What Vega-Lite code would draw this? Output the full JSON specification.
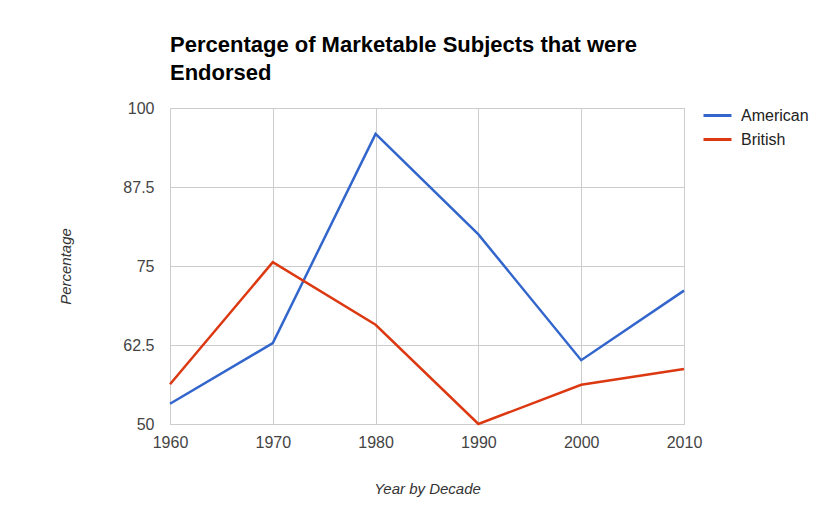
{
  "$schema": "https://vega.github.io/schema/vega-lite/v6.json",
  "width": 514,
  "height": 316,
  "autosize": {"type": "none"},
  "padding": {"left": 170, "top": 108, "right": 152, "bottom": 99},
  "background": "white",
  "config": {
    "font": "Liberation Sans",
    "view": {"stroke": "#cccccc", "strokeWidth": 1}
  },
  "title": {
    "text": ["Percentage of Marketable Subjects that were", "Endorsed"],
    "anchor": "start",
    "frame": "group",
    "font": "Liberation Sans",
    "fontSize": 22,
    "fontWeight": "bold",
    "color": "#000000",
    "lineHeight": 28,
    "offset": 15
  },
  "data": {
    "values": [
      {"year": 1960, "series": "American", "value": 53.2},
      {"year": 1970, "series": "American", "value": 62.8},
      {"year": 1980, "series": "American", "value": 95.9},
      {"year": 1990, "series": "American", "value": 80.0},
      {"year": 2000, "series": "American", "value": 60.1},
      {"year": 2010, "series": "American", "value": 71.1},
      {"year": 1960, "series": "British", "value": 56.3},
      {"year": 1970, "series": "British", "value": 75.6},
      {"year": 1980, "series": "British", "value": 65.7},
      {"year": 1990, "series": "British", "value": 50.0},
      {"year": 2000, "series": "British", "value": 56.2},
      {"year": 2010, "series": "British", "value": 58.7}
    ]
  },
  "mark": {"type": "line", "strokeWidth": 2.5},
  "encoding": {
    "x": {
      "field": "year",
      "type": "quantitative",
      "scale": {"domain": [1960, 2010], "nice": false, "zero": false},
      "axis": {
        "values": [1960, 1970, 1980, 1990, 2000, 2010],
        "format": "d",
        "title": "Year by Decade",
        "titleFont": "Liberation Sans",
        "titleFontStyle": "italic",
        "titleFontWeight": "normal",
        "titleFontSize": 15,
        "titleColor": "#333333",
        "titlePadding": 31,
        "labelFontSize": 16,
        "labelColor": "#444444",
        "labelPadding": 10,
        "labelFlush": false,
        "ticks": false,
        "domain": false,
        "grid": true,
        "gridColor": "#cccccc",
        "gridOpacity": 1
      }
    },
    "y": {
      "field": "value",
      "type": "quantitative",
      "scale": {"domain": [50, 100], "nice": false, "zero": false},
      "axis": {
        "values": [50, 62.5, 75, 87.5, 100],
        "format": ".1~f",
        "title": "Percentage",
        "titleFont": "Liberation Sans",
        "titleFontStyle": "italic",
        "titleFontWeight": "normal",
        "titleFontSize": 15,
        "titleColor": "#333333",
        "titlePadding": 49,
        "labelFontSize": 16,
        "labelColor": "#444444",
        "labelPadding": 16,
        "ticks": false,
        "domain": false,
        "grid": true,
        "gridColor": "#cccccc",
        "gridOpacity": 1
      }
    },
    "color": {
      "field": "series",
      "type": "nominal",
      "scale": {"domain": ["American", "British"], "range": ["#3366cc", "#dc3912"]},
      "legend": {
        "title": null,
        "orient": "none",
        "legendX": 532,
        "legendY": -8,
        "padding": 0,
        "symbolType": "stroke",
        "symbolSize": 784,
        "symbolStrokeWidth": 3,
        "labelFontSize": 16,
        "labelColor": "#222222",
        "labelOffset": 8,
        "rowPadding": -2
      }
    }
  }
}
